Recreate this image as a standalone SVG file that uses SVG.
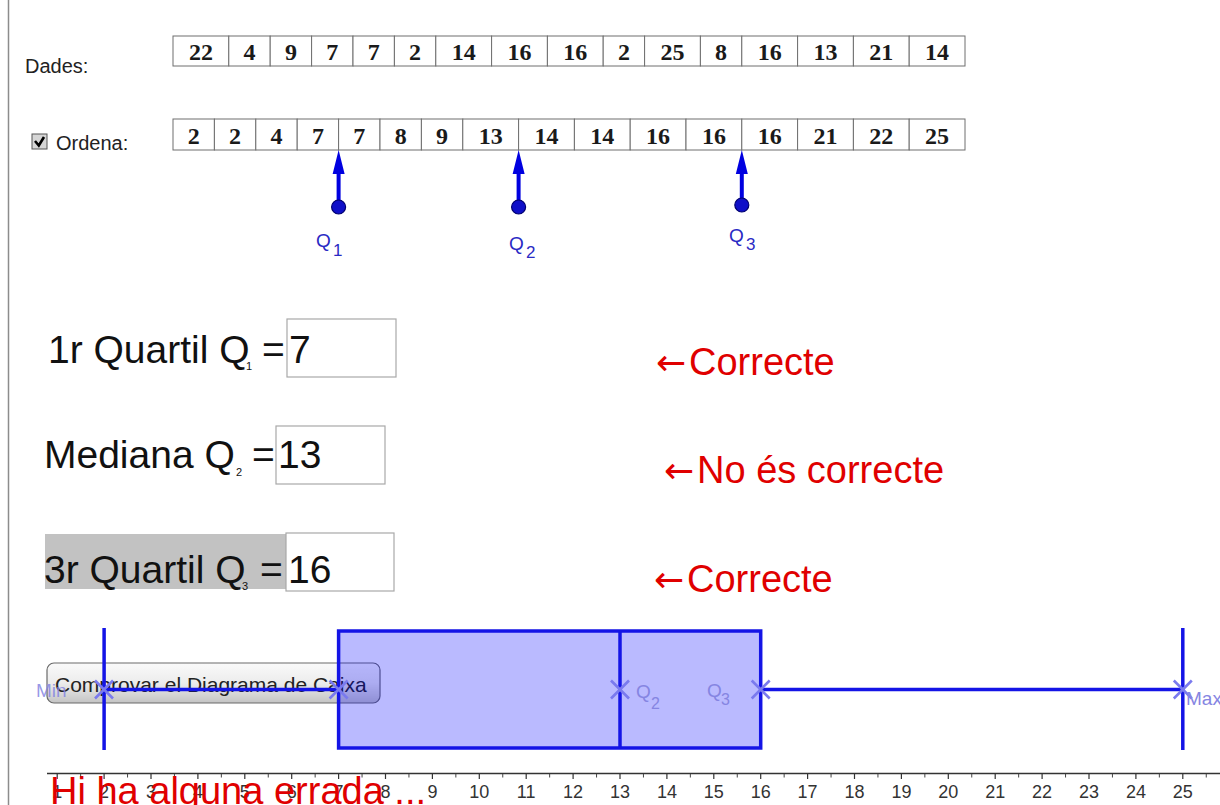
<svg xmlns="http://www.w3.org/2000/svg" width="1220" height="805" viewBox="0 0 1220 805">
<defs>
<style>
.sans{font-family:"Liberation Sans",Arial,sans-serif}
.cell{fill:#fff;stroke:#6e6e6e;stroke-width:1}
.num{font-family:"Liberation Serif","Times New Roman",serif;font-size:24px;font-weight:bold;fill:#1a1a1a;text-anchor:middle}
.lbl{font-family:"Liberation Sans",Arial,sans-serif;font-size:20px;fill:#222}
.big{font-family:"Liberation Sans",Arial,sans-serif;font-size:39px;fill:#111}
.sub{font-family:"Liberation Sans",Arial,sans-serif;font-size:11px;fill:#111}
.inbox{fill:#fff;stroke:#a8a8a8;stroke-width:1.2}
.red{font-family:"Liberation Sans",Arial,sans-serif;font-size:38px;fill:#e00000}
.arr{font-family:"DejaVu Sans",sans-serif;font-size:36px}
.qarrow{stroke:#0000e0;stroke-width:4}
.qhead{fill:#0000e0}
.qdot{fill:#0f0fc8;stroke:#00006e;stroke-width:1.2}
.qlbl{font-family:"Liberation Sans",Arial,sans-serif;font-size:19px;fill:#2a2ac4}
.qsub{font-family:"Liberation Sans",Arial,sans-serif;font-size:17px;fill:#2a2ac4}
.bp{stroke:#1414e6;stroke-width:3.5;fill:none}
.xm{stroke:#7a7aee;stroke-width:2.6;fill:none}
.bpl{font-family:"Liberation Sans",Arial,sans-serif;font-size:19px;fill:#8585e2}
.bpsub{font-family:"Liberation Sans",Arial,sans-serif;font-size:16px;fill:#8585e2}
.axl{font-family:"Liberation Sans",Arial,sans-serif;font-size:18px;fill:#333;text-anchor:middle}
</style>
<linearGradient id="btnGrad" x1="0" y1="0" x2="0" y2="1">
<stop offset="0" stop-color="#fafafa"/>
<stop offset="0.5" stop-color="#ececec"/>
<stop offset="1" stop-color="#c4c4c4"/>
</linearGradient>
</defs>
<rect x="0" y="0" width="1220" height="805" fill="#fff"/>
<line x1="8.5" y1="0" x2="8.5" y2="805" stroke="#8c8c8c" stroke-width="1.5"/>

<g id="dades">
<text class="lbl" x="25" y="73">Dades:</text>
<rect class="cell" x="173" y="36" width="55.8" height="30"/>
<rect class="cell" x="228.8" y="36" width="41.4" height="30"/>
<rect class="cell" x="270.2" y="36" width="41.4" height="30"/>
<rect class="cell" x="311.6" y="36" width="41.4" height="30"/>
<rect class="cell" x="353" y="36" width="41.4" height="30"/>
<rect class="cell" x="394.4" y="36" width="41.4" height="30"/>
<rect class="cell" x="435.8" y="36" width="55.8" height="30"/>
<rect class="cell" x="491.6" y="36" width="55.8" height="30"/>
<rect class="cell" x="547.4" y="36" width="55.8" height="30"/>
<rect class="cell" x="603.2" y="36" width="41.4" height="30"/>
<rect class="cell" x="644.6" y="36" width="55.8" height="30"/>
<rect class="cell" x="700.4" y="36" width="41.4" height="30"/>
<rect class="cell" x="741.8" y="36" width="55.8" height="30"/>
<rect class="cell" x="797.6" y="36" width="55.8" height="30"/>
<rect class="cell" x="853.4" y="36" width="55.8" height="30"/>
<rect class="cell" x="909.2" y="36" width="55.8" height="30"/>
<text class="num" x="200.9" y="60">22</text>
<text class="num" x="249.5" y="60">4</text>
<text class="num" x="290.9" y="60">9</text>
<text class="num" x="332.3" y="60">7</text>
<text class="num" x="373.7" y="60">7</text>
<text class="num" x="415.1" y="60">2</text>
<text class="num" x="463.7" y="60">14</text>
<text class="num" x="519.5" y="60">16</text>
<text class="num" x="575.3" y="60">16</text>
<text class="num" x="623.9" y="60">2</text>
<text class="num" x="672.5" y="60">25</text>
<text class="num" x="721.1" y="60">8</text>
<text class="num" x="769.7" y="60">16</text>
<text class="num" x="825.5" y="60">13</text>
<text class="num" x="881.3" y="60">21</text>
<text class="num" x="937.1" y="60">14</text>
</g>

<g id="ordena">
<rect x="32" y="134" width="15" height="15" fill="#d6d6d6" stroke="#555" stroke-width="1"/>
<path d="M35 141 L38.8 145.5 L44 137" fill="none" stroke="#000" stroke-width="2.6"/>
<text class="lbl" x="56" y="150">Ordena:</text>
<rect class="cell" x="173" y="119" width="41.4" height="31"/>
<rect class="cell" x="214.4" y="119" width="41.4" height="31"/>
<rect class="cell" x="255.8" y="119" width="41.4" height="31"/>
<rect class="cell" x="297.2" y="119" width="41.4" height="31"/>
<rect class="cell" x="338.6" y="119" width="41.4" height="31"/>
<rect class="cell" x="380" y="119" width="41.4" height="31"/>
<rect class="cell" x="421.4" y="119" width="41.4" height="31"/>
<rect class="cell" x="462.8" y="119" width="55.8" height="31"/>
<rect class="cell" x="518.6" y="119" width="55.8" height="31"/>
<rect class="cell" x="574.4" y="119" width="55.8" height="31"/>
<rect class="cell" x="630.2" y="119" width="55.8" height="31"/>
<rect class="cell" x="686" y="119" width="55.8" height="31"/>
<rect class="cell" x="741.8" y="119" width="55.8" height="31"/>
<rect class="cell" x="797.6" y="119" width="55.8" height="31"/>
<rect class="cell" x="853.4" y="119" width="55.8" height="31"/>
<rect class="cell" x="909.2" y="119" width="55.8" height="31"/>
<text class="num" x="193.7" y="144">2</text>
<text class="num" x="235.1" y="144">2</text>
<text class="num" x="276.5" y="144">4</text>
<text class="num" x="317.9" y="144">7</text>
<text class="num" x="359.3" y="144">7</text>
<text class="num" x="400.7" y="144">8</text>
<text class="num" x="442.1" y="144">9</text>
<text class="num" x="490.7" y="144">13</text>
<text class="num" x="546.5" y="144">14</text>
<text class="num" x="602.3" y="144">14</text>
<text class="num" x="658.1" y="144">16</text>
<text class="num" x="713.9" y="144">16</text>
<text class="num" x="769.7" y="144">16</text>
<text class="num" x="825.5" y="144">21</text>
<text class="num" x="881.3" y="144">22</text>
<text class="num" x="937.1" y="144">25</text>
</g>

<g id="connectors">
<line class="qarrow" x1="338.6" y1="207" x2="338.6" y2="168"/>
<polygon class="qhead" points="338.6,150 332.6,174 344.6,174"/>
<line class="qarrow" x1="518.6" y1="207" x2="518.6" y2="168"/>
<polygon class="qhead" points="518.6,150 512.6,174 524.6,174"/>
<line class="qarrow" x1="741.8" y1="205" x2="741.8" y2="168"/>
<polygon class="qhead" points="741.8,150 735.8,174 747.8,174"/>
</g>

<g id="q1-marker">
<circle class="qdot" cx="338.6" cy="207" r="7"/>
<text class="qlbl" x="316" y="247">Q<tspan class="qsub" x="333" y="256">1</tspan></text>
</g>
<g id="q2-marker">
<circle class="qdot" cx="518.6" cy="207" r="7"/>
<text class="qlbl" x="509" y="250">Q<tspan class="qsub" x="526" y="258">2</tspan></text>
</g>
<g id="q3-marker">
<circle class="qdot" cx="741.8" cy="205" r="7"/>
<text class="qlbl" x="729" y="242">Q<tspan class="qsub" x="746" y="250">3</tspan></text>
</g>

<g id="q1-answer">
<text class="big" x="48" y="363">1r Quartil Q</text>
<text class="sub" x="246" y="370">1</text>
<text class="big" x="262" y="363">=</text>
<rect class="inbox" x="287" y="319" width="109" height="58"/>
<text class="big" x="289" y="363">7</text>
</g>
<g id="q2-answer">
<text class="big" x="44" y="468">Mediana Q</text>
<text class="sub" x="236" y="476">2</text>
<text class="big" x="252" y="468">=</text>
<rect class="inbox" x="276" y="426" width="109" height="58"/>
<text class="big" x="278" y="468">13</text>
</g>
<g id="q3-answer">
<rect x="45" y="534" width="241" height="55" fill="#c2c2c2"/>
<text class="big" x="44" y="583">3r Quartil Q</text>
<text class="sub" x="242" y="590">3</text>
<text class="big" x="260" y="583">=</text>
<rect class="inbox" x="286" y="533" width="108" height="58"/>
<text class="big" x="288" y="583">16</text>
</g>

<g id="feedback">
<text class="red" x="656" y="375"><tspan class="arr">←</tspan><tspan x="689">Correcte</tspan></text>
<text class="red" x="664" y="483"><tspan class="arr">←</tspan><tspan x="697">No és correcte</tspan></text>
<text class="red" x="654" y="592"><tspan class="arr">←</tspan><tspan x="687">Correcte</tspan></text>
</g>

<g id="button">
<rect x="47" y="663" width="333" height="40" rx="7" fill="url(#btnGrad)" stroke="#6a6a6a" stroke-width="1.2"/>
<text class="sans" x="55" y="692" font-size="21" fill="#222">Comprovar el Diagrama de Caixa</text>
</g>

<g id="boxplot">
<rect x="338.6" y="631" width="422.1" height="117" fill="#0000ff" fill-opacity="0.27" stroke="none"/>
<rect class="bp" x="338.6" y="631" width="422.1" height="117"/>
<line class="bp" x1="620" y1="631" x2="620" y2="748"/>
<line class="bp" x1="104.1" y1="628" x2="104.1" y2="750"/>
<line class="bp" x1="1182.8" y1="628" x2="1182.8" y2="750"/>
<line class="bp" x1="104.1" y1="689.5" x2="338.6" y2="689.5"/>
<line class="bp" x1="760.7" y1="689.5" x2="1182.8" y2="689.5"/>
<path class="xm" d="M95 680.5 L113 698.5 M95 698.5 L113 680.5"/>
<path class="xm" d="M329.6 680.5 L347.6 698.5 M329.6 698.5 L347.6 680.5"/>
<path class="xm" d="M611 680.5 L629 698.5 M611 698.5 L629 680.5"/>
<path class="xm" d="M751.7 680.5 L769.7 698.5 M751.7 698.5 L769.7 680.5"/>
<path class="xm" d="M1173.8 680.5 L1191.8 698.5 M1173.8 698.5 L1191.8 680.5"/>
<text class="bpl" x="36" y="697" fill-opacity="0.85">Min</text>
<text class="bpl" x="636" y="698">Q<tspan class="bpsub" x="651" y="709">2</tspan></text>
<text class="bpl" x="707" y="697">Q<tspan class="bpsub" x="721" y="705">3</tspan></text>
<text class="bpl" x="1186" y="705">Max</text>
</g>

<g id="axis">
<line x1="47" y1="773.5" x2="1220" y2="773.5" stroke="#333" stroke-width="1.3"/>
<path d="M57.2 773v6M104.1 773v6M151 773v6M197.9 773v6M244.8 773v6M291.7 773v6M338.6 773v6M385.5 773v6M432.4 773v6M479.3 773v6M526.2 773v6M573.1 773v6M620 773v6M666.9 773v6M713.8 773v6M760.7 773v6M807.6 773v6M854.5 773v6M901.4 773v6M948.3 773v6M995.2 773v6M1042.1 773v6M1089 773v6M1135.9 773v6M1182.8 773v6" stroke="#333" stroke-width="1.2"/>
<path d="M80.65 774v3.5M127.55 774v3.5M174.45 774v3.5M221.35 774v3.5M268.25 774v3.5M315.15 774v3.5M362.05 774v3.5M408.95 774v3.5M455.85 774v3.5M502.75 774v3.5M549.65 774v3.5M596.55 774v3.5M643.45 774v3.5M690.35 774v3.5M737.25 774v3.5M784.15 774v3.5M831.05 774v3.5M877.95 774v3.5M924.85 774v3.5M971.75 774v3.5M1018.65 774v3.5M1065.55 774v3.5M1112.45 774v3.5M1159.35 774v3.5M1206.25 774v3.5" stroke="#444" stroke-width="1"/>
<text class="axl" x="57.2" y="798">1</text>
<text class="axl" x="104.1" y="798">2</text>
<text class="axl" x="151" y="798">3</text>
<text class="axl" x="197.9" y="798">4</text>
<text class="axl" x="244.8" y="798">5</text>
<text class="axl" x="291.7" y="798">6</text>
<text class="axl" x="338.6" y="798">7</text>
<text class="axl" x="385.5" y="798">8</text>
<text class="axl" x="432.4" y="798">9</text>
<text class="axl" x="479.3" y="798">10</text>
<text class="axl" x="526.2" y="798">11</text>
<text class="axl" x="573.1" y="798">12</text>
<text class="axl" x="620" y="798">13</text>
<text class="axl" x="666.9" y="798">14</text>
<text class="axl" x="713.8" y="798">15</text>
<text class="axl" x="760.7" y="798">16</text>
<text class="axl" x="807.6" y="798">17</text>
<text class="axl" x="854.5" y="798">18</text>
<text class="axl" x="901.4" y="798">19</text>
<text class="axl" x="948.3" y="798">20</text>
<text class="axl" x="995.2" y="798">21</text>
<text class="axl" x="1042.1" y="798">22</text>
<text class="axl" x="1089" y="798">23</text>
<text class="axl" x="1135.9" y="798">24</text>
<text class="axl" x="1182.8" y="798">25</text>
</g>

<g id="result">
<text class="red" x="50" y="804">Hi ha alguna errada ...</text>
</g>
</svg>
